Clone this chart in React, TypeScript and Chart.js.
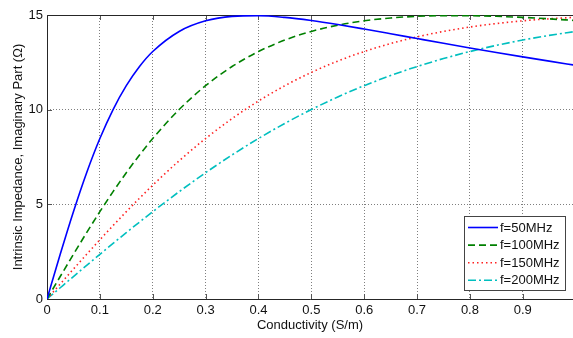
import React, { useEffect, useRef } from "react";
import { Chart, registerables } from "chart.js";

Chart.register(...registerables);

// Conductivity (S/m)
const sigma = [0, 0.025, 0.05, 0.075, 0.1, 0.125, 0.15, 0.175, 0.2, 0.25, 0.3, 0.35, 0.4, 0.45, 0.5, 0.55, 0.6, 0.65, 0.7, 0.75, 0.8, 0.85, 0.9, 0.95, 1.0];

// Imaginary part of intrinsic impedance (Ohm)
const f50 = [0, 2.360, 4.612, 6.670, 8.476, 10.007, 11.267, 12.278, 13.070, 14.132, 14.692, 14.929, 14.964, 14.873, 14.706, 14.495, 14.258, 14.010, 13.758, 13.507, 13.260, 13.020, 12.787, 12.562, 12.345];
const f100 = [0, 1.187, 2.360, 3.506, 4.612, 5.670, 6.670, 7.607, 8.476, 10.007, 11.267, 12.278, 13.070, 13.678, 14.132, 14.462, 14.692, 14.843, 14.929, 14.966, 14.964, 14.930, 14.873, 14.797, 14.706];
const f150 = [0, 0.792, 1.580, 2.360, 3.127, 3.879, 4.612, 5.323, 6.010, 7.302, 8.476, 9.527, 10.456, 11.267, 11.967, 12.565, 13.070, 13.493, 13.845, 14.132, 14.364, 14.549, 14.692, 14.800, 14.878];
const f200 = [0, 0.594, 1.187, 1.776, 2.360, 2.937, 3.506, 4.065, 4.612, 5.670, 6.670, 7.607, 8.476, 9.276, 10.007, 10.670, 11.267, 11.802, 12.278, 12.699, 13.070, 13.395, 13.678, 13.922, 14.132];

const seriesLabels = ["f=50MHz", "f=100MHz", "f=150MHz", "f=200MHz"];
const xTitle = "Conductivity (S/m)";
const yTitle = "Intrinsic Impedance, Imaginary Part (\u03A9)";

const FONT = '"Liberation Sans", Arial, Helvetica, sans-serif';

const frameAndTicks = {
  id: "frameAndTicks",
  beforeDatasetsDraw(chart: any) {
    const { ctx, chartArea: a, scales } = chart;
    ctx.save();
    ctx.strokeStyle = "#555";
    ctx.lineWidth = 1;
    ctx.beginPath();
    scales.x.ticks.forEach((t: any) => {
      const px = Math.round(scales.x.getPixelForValue(t.value)) + 0.5;
      ctx.moveTo(px, a.bottom);
      ctx.lineTo(px, a.bottom - 5);
      ctx.moveTo(px, a.top);
      ctx.lineTo(px, a.top + 5);
    });
    scales.y.ticks.forEach((t: any) => {
      const py = Math.round(scales.y.getPixelForValue(t.value)) + 0.5;
      ctx.moveTo(a.left, py);
      ctx.lineTo(a.left + 5, py);
    });
    ctx.stroke();
    ctx.strokeStyle = "#262626";
    ctx.beginPath();
    ctx.moveTo(a.left + 0.5, a.bottom + 0.5);
    ctx.lineTo(a.left + 0.5, a.top + 0.5);
    ctx.lineTo(a.right + 2, a.top + 0.5);
    ctx.moveTo(a.left + 0.5, a.bottom + 0.5);
    ctx.lineTo(a.right + 2, a.bottom + 0.5);
    ctx.stroke();
    ctx.restore();
  },
};

const boxLegend = {
  id: "boxLegend",
  afterDraw(chart: any) {
    const { ctx, chartArea: a } = chart;
    const w = 101;
    const h = 74;
    const x = a.right - 8 - w;
    const y = a.bottom - 9 - h;
    ctx.save();
    ctx.fillStyle = "#fff";
    ctx.fillRect(x, y, w, h);
    ctx.strokeStyle = "#444";
    ctx.lineWidth = 1;
    ctx.strokeRect(x + 0.5, y + 0.5, w, h);
    chart.data.datasets.forEach((ds: any, i: number) => {
      const cy = y + 11.5 + i * 17.6;
      ctx.setLineDash(ds.borderDash || []);
      ctx.strokeStyle = ds.borderColor;
      ctx.lineWidth = ds.borderWidth;
      ctx.beginPath();
      ctx.moveTo(x + 4, cy);
      ctx.lineTo(x + 34, cy);
      ctx.stroke();
      ctx.setLineDash([]);
      ctx.fillStyle = "#111";
      ctx.font = "13px " + FONT;
      ctx.textBaseline = "middle";
      ctx.textAlign = "left";
      ctx.fillText(ds.label, x + 36, cy + 0.5);
    });
    ctx.restore();
  },
};

function toPoints(ys: number[]) {
  return sigma.map((s, i) => ({ x: s, y: ys[i] }));
}

export default function App() {
  const ref = useRef<HTMLCanvasElement | null>(null);
  useEffect(() => {
    document.body.style.margin = "0";
    const canvas = ref.current;
    if (!canvas) return;
    Chart.defaults.font.family = FONT;
    Chart.defaults.font.size = 13;
    Chart.defaults.color = "#111";
    const styles = [
      { color: "#0000ff", dash: [] as number[] },
      { color: "#008000", dash: [7, 4] },
      { color: "#ff2020", dash: [1.5, 3] },
      { color: "#00bfbf", dash: [8, 3, 2, 3] },
    ];
    const series = [f50, f100, f150, f200];
    const chart = new Chart(canvas, {
      type: "line",
      data: {
        datasets: series.map((ys, i) => ({
          label: seriesLabels[i],
          data: toPoints(ys),
          borderColor: styles[i].color,
          backgroundColor: styles[i].color,
          borderDash: styles[i].dash,
          borderWidth: 1.6,
          pointRadius: 0,
          fill: false,
          cubicInterpolationMode: "monotone" as const,
        })),
      },
      options: {
        responsive: false,
        animation: false,
        layout: { padding: { top: 15, right: 0, left: 0, bottom: 0 } },
        plugins: {
          legend: { display: false },
          tooltip: { enabled: false },
        },
        scales: {
          x: {
            type: "linear",
            min: 0,
            max: 0.995,
            grid: { color: "rgba(0,0,0,0.5)", drawTicks: false, lineWidth: 1 },
            border: { display: false, dash: [1, 2] },
            ticks: {
              stepSize: 0.1,
              includeBounds: false,
              padding: 4,
              maxRotation: 0,
              color: "#111",
              callback: (v: any) => (v === 0 ? "0" : Number(v).toFixed(1)),
            },
            title: { display: true, text: xTitle, color: "#111", padding: { top: 0, bottom: 5 } },
            afterFit: (s: any) => {
              s.height = 39;
            },
          },
          y: {
            type: "linear",
            min: 0,
            max: 15,
            grid: { color: "rgba(0,0,0,0.5)", drawTicks: false, lineWidth: 1 },
            border: { display: false, dash: [1, 2] },
            ticks: { stepSize: 5, padding: 4, color: "#111" },
            title: { display: true, text: yTitle, color: "#111", padding: { top: 11, bottom: 0 } },
            afterFit: (s: any) => {
              s.width = 47;
            },
          },
        },
      },
      plugins: [frameAndTicks, boxLegend],
    });
    return () => chart.destroy();
  }, []);
  return (
    <div style={{ position: "fixed", left: 0, top: 0, width: 573, height: 338, background: "#fff" }}>
      <canvas ref={ref} width={573} height={338} style={{ display: "block" }} />
    </div>
  );
}
